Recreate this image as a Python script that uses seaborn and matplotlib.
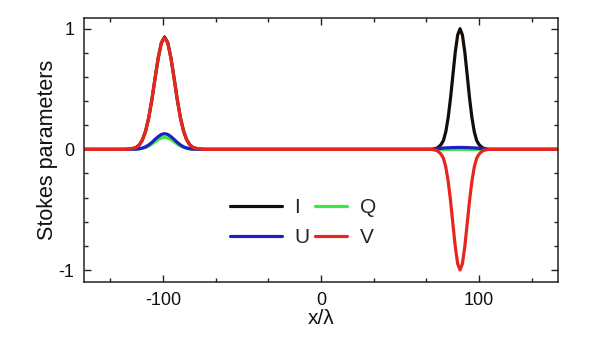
import matplotlib
matplotlib.use("Agg")
import matplotlib.pyplot as plt
from matplotlib.ticker import AutoMinorLocator, MultipleLocator
import pandas as pd
import seaborn as sns

# ─────────────────────────────────────────────
# DATA
# ─────────────────────────────────────────────
x_pos = [-150, -124, -120, -117, -115, -113, -111, -109, -107, -105, -103, -101,
         -99, -97, -95, -93, -91, -89, -87, -85, -83, -81, -78, -74,
         70, 72, 74, 76, 77.5, 79, 80.5, 82, 83.5, 85, 86.5, 88,
         89.5, 91, 92.5, 94, 95.5, 97, 98.5, 100, 102, 104, 106, 150]

stokes_I = [0, 0, 0.004, 0.016, 0.037, 0.079, 0.152, 0.264, 0.415, 0.591, 0.760, 0.884,
            0.932, 0.884, 0.760, 0.591, 0.415, 0.264, 0.152, 0.079, 0.037, 0.016, 0.004, 0,
            0, 0.005, 0.015, 0.040, 0.074, 0.147, 0.265, 0.427, 0.620, 0.808, 0.948, 1.0,
            0.948, 0.808, 0.620, 0.427, 0.265, 0.147, 0.074, 0.040, 0.015, 0.005, 0, 0]

stokes_Q = [0, 0, 0, 0.002, 0.004, 0.009, 0.016, 0.028, 0.045, 0.064, 0.082, 0.095,
            0.100, 0.095, 0.082, 0.064, 0.045, 0.028, 0.016, 0.009, 0.004, 0.002, 0, 0,
            0, 0, 0, 0, 0, 0, 0, 0, 0, 0, 0, 0,
            0, 0, 0, 0, 0, 0, 0, 0, 0, 0, 0, 0]

stokes_U = [0, 0, 0.001, 0.002, 0.005, 0.011, 0.021, 0.037, 0.058, 0.083, 0.106, 0.124,
            0.130, 0.124, 0.106, 0.083, 0.058, 0.037, 0.021, 0.011, 0.005, 0.002, 0.001, 0,
            0, 0.003, 0.006, 0.009, 0.011, 0.012, 0.013, 0.014, 0.015, 0.015, 0.016, 0.016,
            0.016, 0.015, 0.015, 0.014, 0.013, 0.012, 0.011, 0.009, 0.006, 0.003, 0, 0]

stokes_V = [0, 0, 0.004, 0.016, 0.037, 0.079, 0.152, 0.264, 0.415, 0.591, 0.760, 0.884,
            0.926, 0.884, 0.760, 0.591, 0.415, 0.264, 0.152, 0.079, 0.037, 0.016, 0.004, 0,
            0, -0.005, -0.015, -0.040, -0.074, -0.147, -0.265, -0.427, -0.620, -0.808, -0.948, -1.0,
            -0.948, -0.808, -0.620, -0.427, -0.265, -0.147, -0.074, -0.040, -0.015, -0.005, 0, 0]

labels = ["I", "Q", "U", "V"]
colors = {"I": "#140d08", "Q": "#3ce83c", "U": "#1f1fc8", "V": "#e8261e"}

df = pd.DataFrame({"x": x_pos, "I": stokes_I, "Q": stokes_Q,
                   "U": stokes_U, "V": stokes_V})

# ─────────────────────────────────────────────
# PLOT
# ─────────────────────────────────────────────
sns.set_theme(style="ticks")
plt.rcParams["font.family"] = ["Liberation Sans", "DejaVu Sans"]
plt.rcParams["axes.unicode_minus"] = False

fig = plt.figure(figsize=(6, 3.37), dpi=100)
ax = fig.add_axes([0.14, 0.163, 0.79, 0.784])

lines = {}
for name in labels:
    sns.lineplot(data=df, x="x", y=name, ax=ax, color=colors[name],
                 linewidth=2.3, label=name, sort=False)
    lines[name] = ax.get_lines()[-1]

ax.set_xlim(-150, 150)
ax.set_ylim(-1.1, 1.09)
ax.xaxis.set_major_locator(MultipleLocator(100))
ax.yaxis.set_major_locator(MultipleLocator(1))
ax.xaxis.set_minor_locator(AutoMinorLocator(3))
ax.yaxis.set_minor_locator(AutoMinorLocator(5))
ax.tick_params(which="both", direction="in", top=True, right=True,
               width=1.0, colors="#222222", labelsize=13, labelcolor="#111111")
ax.tick_params(which="major", length=5, pad=7)
ax.tick_params(which="minor", length=3)
for sp in ax.spines.values():
    sp.set_linewidth(1.1)
    sp.set_color("#222222")

ax.set_xlabel("x/λ", fontsize=15, color="#111111", labelpad=0)
ax.set_ylabel("Stokes parameters", fontsize=15.5, color="#111111", labelpad=0)

# two legend columns: left one with long handles, right one with short ones
leg_kw = dict(frameon=False, loc="center left", fontsize=15, borderpad=0,
              borderaxespad=0, handletextpad=0.6, labelspacing=0.55)
leg1 = ax.legend(handles=[lines["I"], lines["U"]], labels=["I", "U"],
                 bbox_to_anchor=(0.308, 0.225), handlelength=2.5, **leg_kw)
ax.add_artist(leg1)
ax.legend(handles=[lines["Q"], lines["V"]], labels=["Q", "V"],
          bbox_to_anchor=(0.487, 0.225), handlelength=1.55, **leg_kw)

plt.savefig("out.png", dpi=100)
print("[INFO] saved -> out.png")
